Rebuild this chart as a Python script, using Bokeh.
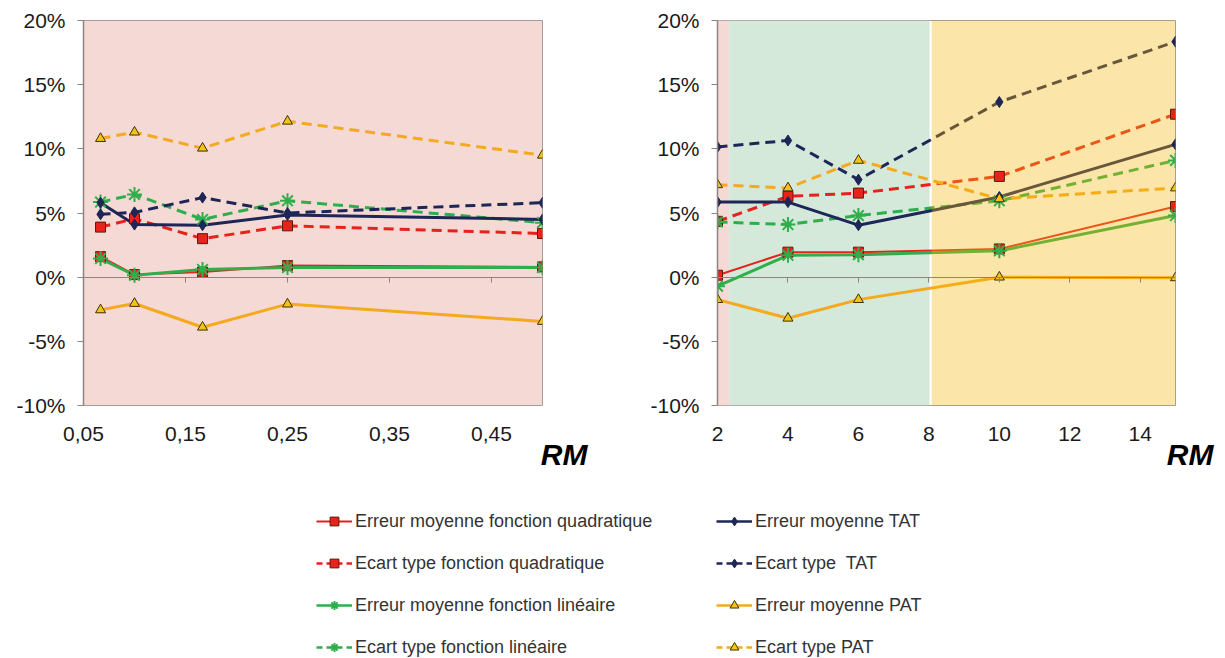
from bokeh.plotting import figure
from bokeh.layouts import column, row
from bokeh.models import (FixedTicker, PrintfTickFormatter, CustomJSTickFormatter, LinearAxis,
                          Range1d, Title, Legend, LegendItem, BoxAnnotation)
from bokeh.embed import file_html
from bokeh.resources import INLINE

# ---------------- data ----------------
RM_LEFT = [0.0667, 0.1, 0.1667, 0.25, 0.5]
RM_RIGHT = [2, 4, 6, 10, 15]

X_TICKS_LEFT = [0.05, 0.15, 0.25, 0.35, 0.45]
X_TICKS_RIGHT = [2, 4, 6, 8, 10, 12, 14]
Y_TICKS = [-10, -5, 0, 5, 10, 15, 20]

SERIES_NAMES = [
    "Erreur moyenne fonction quadratique",
    "Ecart type fonction quadratique",
    "Erreur moyenne fonction linéaire",
    "Ecart type fonction linéaire",
    "Erreur moyenne TAT",
    "Ecart type  TAT",
    "Erreur moyenne PAT",
    "Ecart type PAT",
]

quad_err_left = [1.6, 0.2, 0.4, 0.9, 0.8]
quad_std_left = [3.9, 4.55, 3.0, 4.0, 3.4]
lin_err_left = [1.45, 0.15, 0.6, 0.75, 0.75]
lin_std_left = [5.85, 6.45, 4.5, 5.95, 4.25]
tat_err_left = [5.8, 4.1, 4.05, 4.85, 4.5]
tat_std_left = [4.9, 5.05, 6.2, 5.0, 5.8]
pat_err_left = [-2.55, -2.05, -3.9, -2.1, -3.45]
pat_std_left = [10.8, 11.3, 10.05, 12.15, 9.5]

quad_err_right = [0.15, 1.95, 1.95, 2.2, 5.5]
quad_std_right = [4.35, 6.3, 6.55, 7.85, 12.7]
lin_err_right = [-0.7, 1.7, 1.75, 2.05, 4.8]
lin_std_right = [4.3, 4.1, 4.8, 5.95, 9.1]
tat_err_right = [5.85, 5.85, 4.05, 6.25, 10.35]
tat_std_right = [10.15, 10.65, 7.6, 13.65, 18.35]
pat_err_right = [-1.75, -3.2, -1.75, 0.0, -0.05]
pat_std_right = [7.2, 6.95, 9.1, 6.1, 6.95]

LEFT_VALUES = [quad_err_left, quad_std_left, lin_err_left, lin_std_left,
               tat_err_left, tat_std_left, pat_err_left, pat_std_left]
RIGHT_VALUES = [quad_err_right, quad_std_right, lin_err_right, lin_std_right,
                tat_err_right, tat_std_right, pat_err_right, pat_std_right]

# zones of the right chart (RM boundaries)
ZONE_PINK = (2, 2.33)
ZONE_GREEN = (2.33, 8.02)
ZONE_YELLOW = (8.08, 15)

# ---------------- styles ----------------
RED = "#E5221C"
GREEN = "#2FAE4B"
NAVY = "#1D2656"
ORANGE = "#F4A91E"
PINK_BG = "#F5D9D5"
GREEN_BG = "#D5E9DB"
YELLOW_OVER = "#F6B509"
FONT = "Liberation Sans"

STYLES = [
    dict(color=RED, dash="solid", width=2.0, marker="square", size=10, fill="#E8231C", outline="#5A1A0A", mlw=1),
    dict(color=RED, dash="10 6", width=3.0, marker="square", size=10, fill="#E8231C", outline="#5A1A0A", mlw=1),
    dict(color=GREEN, dash="solid", width=3.0, marker="asterisk", size=15, fill=GREEN, outline=GREEN, mlw=2),
    dict(color=GREEN, dash="10 6", width=3.0, marker="asterisk", size=15, fill=GREEN, outline=GREEN, mlw=2),
    dict(color=NAVY, dash="solid", width=3.0, marker="diamond", size=11, fill=NAVY, outline=NAVY, mlw=1),
    dict(color=NAVY, dash="10 6", width=3.0, marker="diamond", size=11, fill=NAVY, outline=NAVY, mlw=1),
    dict(color=ORANGE, dash="solid", width=3.0, marker="triangle", size=10, fill="#F2C417", outline="#3E3000", mlw=1),
    dict(color=ORANGE, dash="10 6", width=3.0, marker="triangle", size=10, fill="#F2C417", outline="#3E3000", mlw=1),
]

PLOT_H = 505
BORDER_BOTTOM = 100


def make_plot(width, border_left, border_right, xr, xticks, xfmt, rm_offset):
    p = figure(width=width, height=PLOT_H, x_range=xr, y_range=Range1d(-10, 20),
               output_backend="svg", toolbar_location=None,
               min_border_left=border_left, min_border_right=border_right,
               min_border_top=20, min_border_bottom=BORDER_BOTTOM)
    p.xgrid.visible = False
    p.ygrid.visible = False
    p.outline_line_color = "#A89A9A"
    p.outline_line_width = 1
    p.border_fill_color = "white"

    ya = p.yaxis[0]
    ya.ticker = FixedTicker(ticks=Y_TICKS)
    ya.formatter = PrintfTickFormatter(format="%d%%")
    ya.major_label_text_font = FONT
    ya.major_label_text_font_size = "21px"
    ya.major_label_text_color = "#1A1A1A"
    ya.major_tick_out = 6
    ya.major_tick_in = 0
    ya.major_tick_line_color = "#8E8282"
    ya.minor_tick_line_color = None
    ya.axis_line_color = "#8E8282"
    ya.axis_line_width = 1.5
    ya.major_label_standoff = 12

    xa = p.xaxis[0]
    xa.ticker = FixedTicker(ticks=xticks)
    xa.formatter = xfmt
    xa.major_label_text_font = FONT
    xa.major_label_text_font_size = "21px"
    xa.major_label_text_color = "#1A1A1A"
    xa.major_tick_line_color = None
    xa.minor_tick_line_color = None
    xa.axis_line_color = None
    xa.major_tick_out = 0
    xa.major_tick_in = 0
    xa.major_label_standoff = 21

    # axis line with ticks crossing at 0 %
    za = LinearAxis(fixed_location=0, ticker=FixedTicker(ticks=xticks),
                    formatter=CustomJSTickFormatter(code="return '';"),
                    major_label_standoff=0,
                    axis_line_color="#8E8282", axis_line_width=1,
                    major_tick_line_color="#8E8282", major_tick_out=5, major_tick_in=0,
                    minor_tick_line_color=None)
    p.add_layout(za, "below")

    t = Title(text="RM", align="right", offset=rm_offset, standoff=-11, vertical_align="top",
              text_font=FONT, text_font_size="30px", text_font_style="bold italic",
              text_color="#000000")
    p.add_layout(t, "below")
    return p


fmt_left = CustomJSTickFormatter(code="return tick.toFixed(2).replace('.', ',');")
fmt_right = PrintfTickFormatter(format="%d")

p1 = make_plot(628, 83, 86, Range1d(0.05, 0.5), X_TICKS_LEFT, fmt_left, -45)
p1.background_fill_color = PINK_BG

p2 = make_plot(590, 89, 43, Range1d(2, 15), X_TICKS_RIGHT, fmt_right, -38)
p2.background_fill_color = "white"
p2.add_layout(BoxAnnotation(left=ZONE_PINK[0], right=ZONE_PINK[1], fill_color=PINK_BG,
                            fill_alpha=1, line_color=None, level="underlay"))
p2.add_layout(BoxAnnotation(left=ZONE_GREEN[0], right=ZONE_GREEN[1], fill_color=GREEN_BG,
                            fill_alpha=1, line_color=None, level="underlay"))


def draw_series(p, xs, values_list, overlay=None):
    for vals, st in zip(values_list, STYLES):
        p.line(xs, vals, line_color=st["color"], line_width=st["width"], line_dash=st["dash"])
    if overlay is not None:
        p.quad(left=[overlay[0]], right=[overlay[1]], bottom=[-10], top=[20],
               fill_color=YELLOW_OVER, fill_alpha=0.35, line_color=None)
    for vals, st in zip(values_list, STYLES):
        p.scatter(xs, vals, marker=st["marker"], size=st["size"], fill_color=st["fill"],
                  line_color=st["outline"], line_width=st["mlw"])


draw_series(p1, RM_LEFT, LEFT_VALUES)
draw_series(p2, RM_RIGHT, RIGHT_VALUES, overlay=ZONE_YELLOW)

# ---------------- legend figure ----------------
LEG_H = 658 - PLOT_H
pl = figure(width=1209, height=LEG_H, x_range=Range1d(0, 1), y_range=Range1d(0, 1),
            output_backend="svg", toolbar_location=None, x_axis_type=None, y_axis_type=None,
            min_border=0)
pl.outline_line_color = None
pl.xgrid.visible = False
pl.ygrid.visible = False

NAN = float("nan")
items = []
for name, st in zip(SERIES_NAMES, STYLES):
    lr = pl.line(x=[NAN, NAN], y=[NAN, NAN], line_color=st["color"],
                 line_width=2.5 if st["width"] > 2 else 2,
                 line_dash="6 4" if st["dash"] != "solid" else "solid")
    sr = pl.scatter(x=[NAN], y=[NAN], marker=st["marker"], size=st["size"] - 2, fill_color=st["fill"],
                    line_color=st["outline"], line_width=st["mlw"])
    items.append(LegendItem(label=name, renderers=[lr, sr]))


def make_legend(its, loc):
    return Legend(items=its, location=loc, orientation="vertical", padding=0, margin=0,
                  spacing=20, glyph_width=36, glyph_height=22, label_height=22,
                  label_standoff=3, label_text_font=FONT, label_text_font_size="18px",
                  label_text_color="#333333", border_line_color=None,
                  background_fill_alpha=0)


pl.add_layout(make_legend(items[:4], (316, 0)))
pl.add_layout(make_legend(items[4:], (716, 0)))

layout = column(row(p1, p2), pl)
open("out.html", "w").write(file_html(layout, INLINE))
